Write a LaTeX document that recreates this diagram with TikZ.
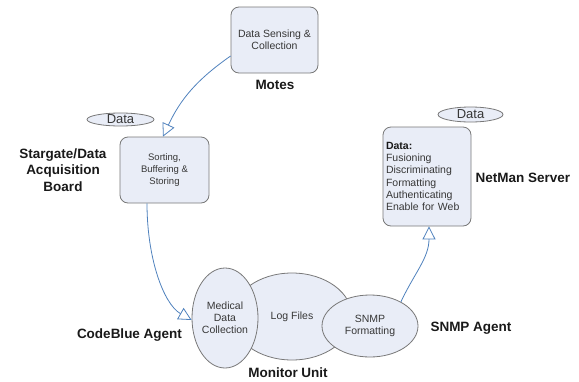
\documentclass[tikz,border=0pt]{standalone}
\usepackage{fontspec}
\setmainfont{Liberation Sans}
\usetikzlibrary{arrows.meta,shapes.geometric}
\definecolor{boxfill}{RGB}{233,237,247}
\definecolor{boxdraw}{RGB}{120,120,120}
\definecolor{linkblue}{RGB}{79,129,189}
\definecolor{txt}{RGB}{55,55,55}
\definecolor{captxt}{RGB}{25,25,25}
\begin{document}
\begin{tikzpicture}[x=1pt,y=1pt,
 procbox/.style={draw=boxdraw,fill=boxfill,rounded corners=8pt,line width=0.8pt,text=txt,font=\fontsize{10.5}{12}\selectfont,align=center,inner sep=0pt},
 unit/.style={ellipse,draw=boxdraw,fill=boxfill,line width=0.8pt,text=txt,font=\fontsize{10.5}{12}\selectfont,align=center,inner sep=0pt},
 datatag/.style={ellipse,draw=boxdraw,fill=boxfill,line width=0.8pt,text=txt,font=\fontsize{13}{15}\selectfont,inner sep=0pt},
 caption/.style={text=captxt,font=\fontsize{13.5}{16.5}\selectfont\bfseries,inner sep=0pt},
 link/.style={draw=linkblue,line width=0.8pt,-{Triangle[open,length=13pt,width=13pt]}}
]
\useasboundingbox (0,0) rectangle (579,-381);
% boxes
\node[procbox,minimum width=87pt,minimum height=66pt] (motes) at (274.5,-40) {Data Sensing \&\\Collection};
\node[procbox,minimum width=89pt,minimum height=66pt,font=\fontsize{9.5}{12}\selectfont] (sort) at (164.5,-170) {Sorting,\\Buffering \&\\Storing};
\node[procbox,minimum width=88pt,minimum height=99pt,text width=82pt,align=left,inner sep=3pt,font=\fontsize{10.5}{12.3}\selectfont] (netman) at (427,-176.5) {\textcolor{captxt}{\textbf{Data:}}\\Fusioning\\Discriminating\\Formatting\\Authenticating\\Enable for Web};
% monitor unit ellipses
\node[unit,minimum width=120pt,minimum height=87pt] (log) at (292,-316.5) {Log Files};
\node[unit,minimum width=96pt,minimum height=62pt] (snmp) at (370,-326) {SNMP\\Formatting};
\node[unit,minimum width=66pt,minimum height=100pt] (med) at (225,-318) {Medical\\Data\\Collection};
% data tags
\node[datatag,minimum width=67pt,minimum height=13pt] (dataL) at (120.5,-119.5) {Data};
\node[datatag,minimum width=65pt,minimum height=15pt] (dataR) at (470.5,-114.5) {Data};
% captions
\node[caption] (motescap) at (275,-85) {Motes};
\node[caption,align=center] (sgcap) at (63,-170) {Stargate/Data\\Acquisition\\Board};
\node[caption] (netcap) at (523,-178) {NetMan Server};
\node[caption] (cbcap) at (129.5,-335) {CodeBlue Agent};
\node[caption] (snmpcap) at (471,-328) {SNMP Agent};
\node[caption] (moncap) at (288,-373) {Monitor Unit};
% connectors
\draw[link] (motes.200) to[out=215,in=65] ([xshift=-1.5pt]sort.north);
\draw[link] ([xshift=-17.5pt]sort.south) .. controls +(0,-55) and +(-28,16) .. ([yshift=-2pt]med.west);
\draw[link] (snmp.38) to[out=65,in=270] ([xshift=2pt]netman.south);
\end{tikzpicture}
\end{document}
